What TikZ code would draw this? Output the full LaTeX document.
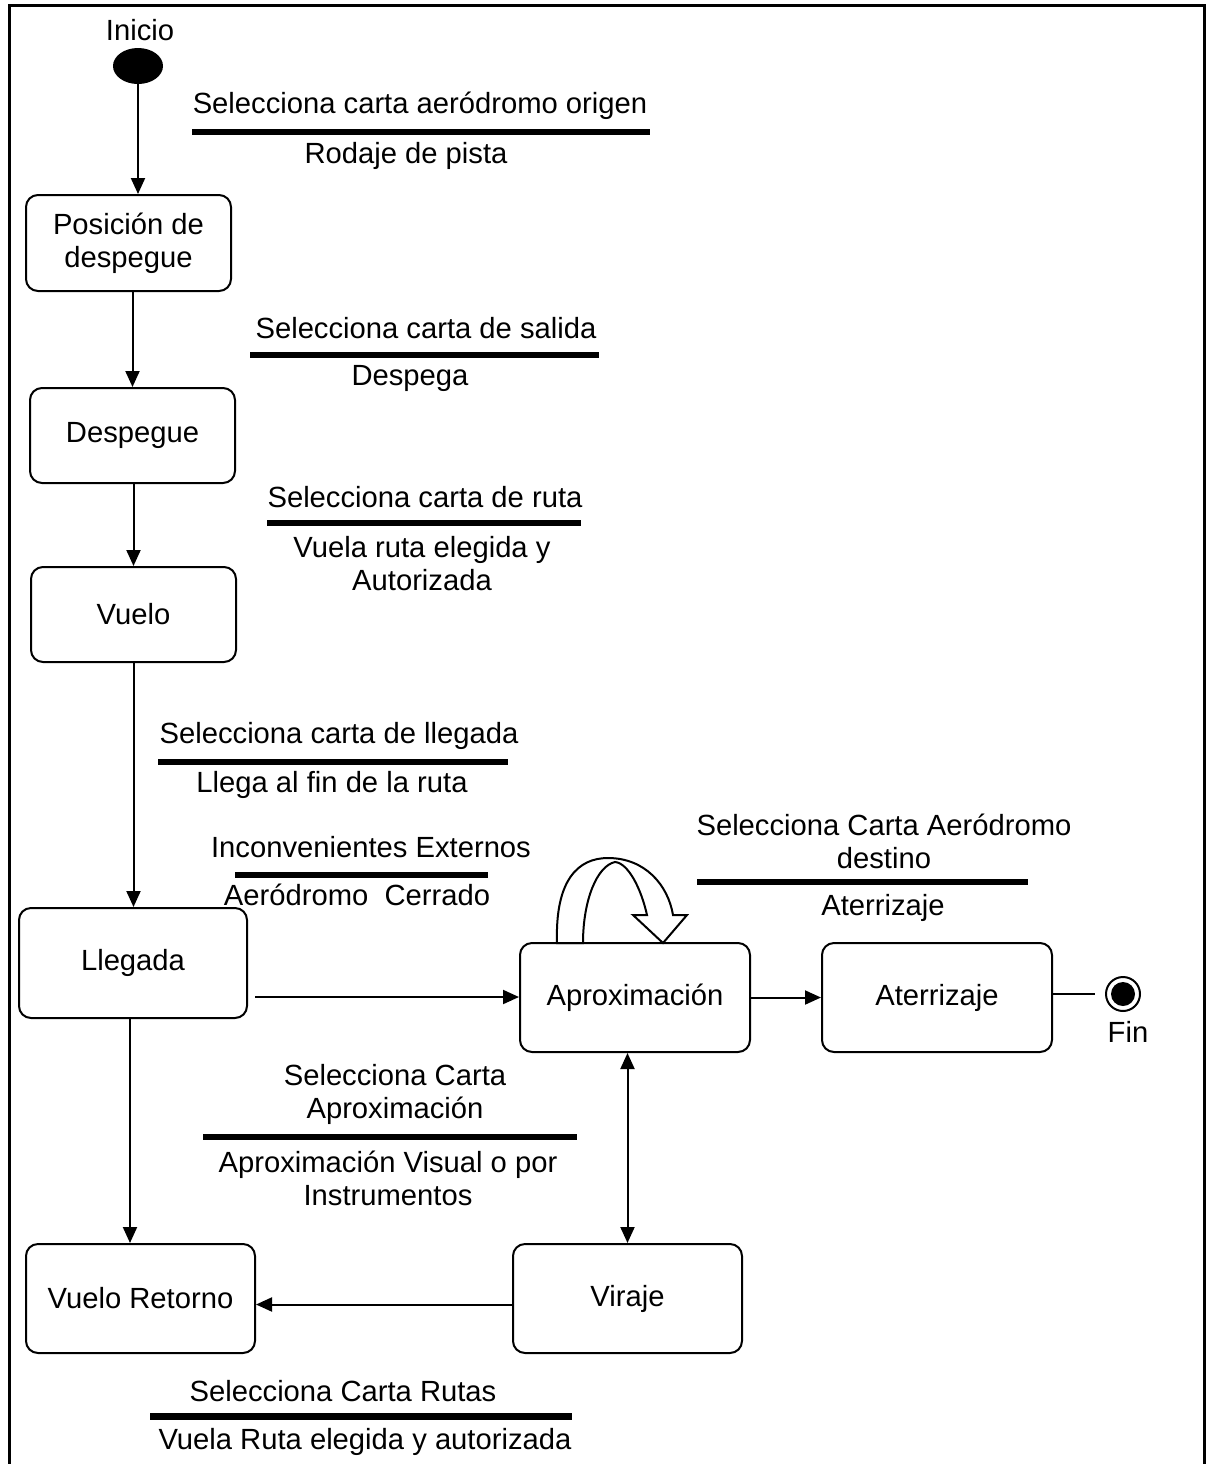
\documentclass[tikz,border=0pt]{standalone}
\usepackage{fontspec}
\setmainfont{Liberation Sans}
\usetikzlibrary{arrows.meta,shapes.geometric}
\begin{document}
\begin{tikzpicture}[x=0.5pt,y=-0.5pt,
  every node/.style={font=\fontsize{14.6}{16.5}\selectfont, inner sep=0pt},
  state/.style={draw, line width=1pt, rounded corners=6pt, align=center},
  lbl/.style={align=center},
  bar/.style={line width=3pt},
  arr/.style={line width=1pt, -{Triangle[length=8pt,width=7pt]}},
  darr/.style={line width=1pt, {Triangle[length=8pt,width=7pt]}-{Triangle[length=8pt,width=7pt]}},
  conn/.style={line width=1pt},
]
\useasboundingbox (0,0) rectangle (1207,1464);
% frame
\draw[line width=1.5pt] (9,1464) -- (9,5) -- (1204,5) -- (1204,1464);

% initial and final states
\node (inicio) at (140,30) {Inicio};
\node[ellipse, fill=black, minimum width=25pt, minimum height=18pt] (start) at (138,66) {};
\node[circle, draw, line width=1pt, minimum size=17pt] (fin) at (1123,994) {};
\fill (fin.center) circle (6pt);
\node (fintxt) at (1128,1032) {Fin};

% states
\node[state, minimum width=102.5pt, minimum height=48pt] (pos) at (128.5,243) {Posición de\\despegue};
\node[state, minimum width=102.5pt, minimum height=47.5pt] (desp) at (132.5,435.5) {Despegue};
\node[state, minimum width=102.5pt, minimum height=47.5pt] (vuelo) at (133.5,614.5) {Vuelo};
\node[state, minimum width=114pt, minimum height=55pt] (lleg) at (133,963) {Llegada};
\node[state, minimum width=115pt, minimum height=54.5pt] (aprox) at (635,997.5) {Aproximación};
\node[state, minimum width=115pt, minimum height=54.5pt] (ater) at (937,997.5) {Aterrizaje};
\node[state, minimum width=114.5pt, minimum height=54.5pt] (vir) at (627.5,1298.5) {Viraje};
\node[state, minimum width=114.5pt, minimum height=54.5pt] (ret) at (140.5,1298.5) {Vuelo Retorno};

% transitions
\draw[arr] (start.south) -- (start.south |- pos.north);
\draw[arr] (pos.south -| desp.north) -- (desp.north);
\draw[arr] (desp.south -| vuelo.north) -- (vuelo.north);
\draw[arr] (vuelo.south) -- (vuelo.south |- lleg.north);
\coordinate (lout) at (255,997);
\draw[arr] (lout) -- (lout -| aprox.west);
\draw[arr] (aprox.east) -- (ater.west);
\coordinate (fend) at (1095,994);
\draw[conn] (ater.east |- fend) -- (fend);
\coordinate (vdown) at (130,0);
\draw[arr] (vdown |- lleg.south) -- (vdown |- ret.north);
\draw[darr] (vir.north |- aprox.south) -- (vir.north);
\draw[arr] ([yshift=-3pt]vir.west) -- ([yshift=-3pt]ret.east);

% self transition on Aproximacion (hollow block arrow)
\draw[line width=1pt, fill=white, line join=miter]
  (557,943) .. controls (555,880) and (578,858) .. (608,858)
  .. controls (645,858) and (668,885) .. (673,915)
  -- (687,915) -- (663,943) -- (633,915) -- (647,915)
  .. controls (641,888) and (628,863) .. (615,862)
  .. controls (597,866) and (583,900) .. (583,943) -- cycle;

% guard / action labels
\node[lbl] (g1) at (420,106) {Selecciona carta aeródromo origen};
\draw[bar] (192,132) -- (650,132);
\node[lbl] (a1) at (406,156) {Rodaje de pista};

\node[lbl] (g2) at (426,328) {Selecciona carta de salida};
\draw[bar] (250,355) -- (599,355);
\node[lbl] (a2) at (410,378) {Despega};

\node[lbl] (g3) at (425,497) {Selecciona carta de ruta};
\draw[bar] (267,523) -- (581,523);
\node[lbl] (a3) at (422,563.5) {Vuela ruta elegida y\\Autorizada};

\node[lbl] (g4) at (339,736) {Selecciona carta de llegada};
\draw[bar] (158,762) -- (508,762);
\node[lbl] (a4) at (332,785) {Llega al fin de la ruta};

\node[lbl] (g5) at (371,847) {Inconvenientes Externos};
\draw[bar] (235,875) -- (488,875);
\node[lbl] (a5) at (357,895) {Aeródromo\ \ Cerrado};

\node[lbl] (g6) at (884,841) {Selecciona Carta Aeródromo\\destino};
\draw[bar] (697,882) -- (1028,882);
\node[lbl] (a6) at (883,908) {Aterrizaje};

\node[lbl] (g7) at (395,1094) {Selecciona Carta\\Aproximación};
\draw[bar] (203,1137) -- (577,1137);
\node[lbl] (a7) at (388,1178) {Aproximación Visual o por\\Instrumentos};

\node[lbl] (g8) at (343,1391) {Selecciona Carta Rutas};
\draw[line width=3.5pt] (150,1416) -- (572,1416);
\node[lbl] (a8) at (365,1442) {Vuela Ruta elegida y autorizada};
\end{tikzpicture}
\end{document}
